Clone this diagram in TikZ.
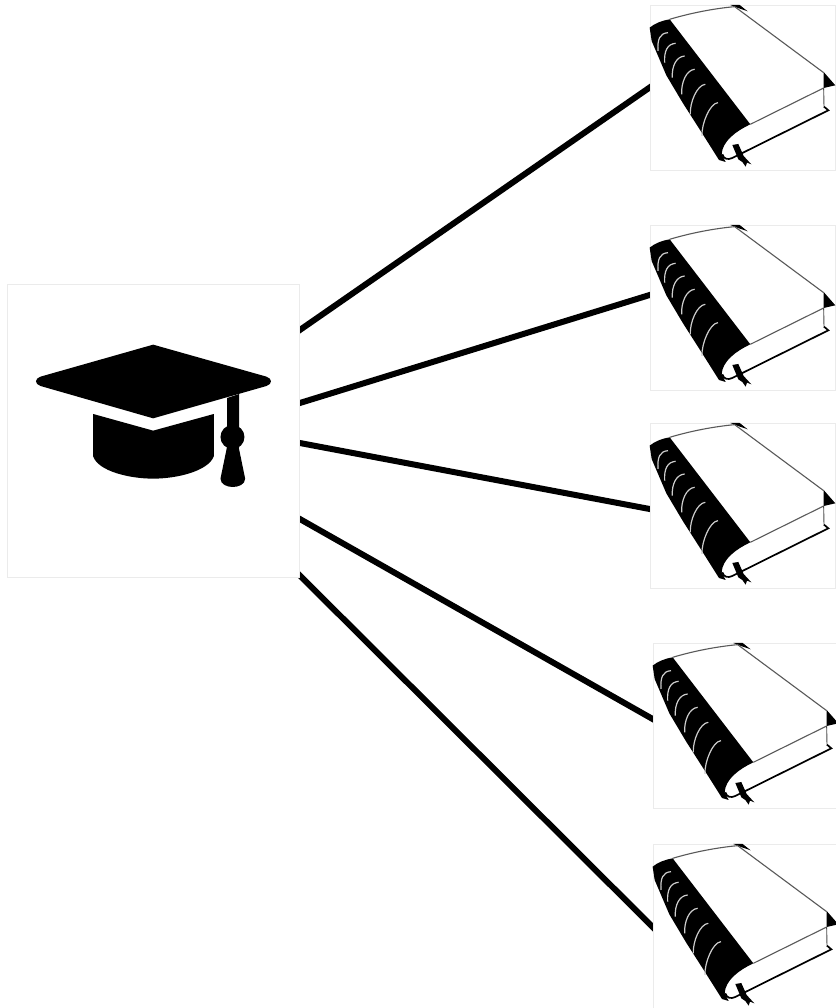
\documentclass[tikz,border=0pt]{standalone}
\usepackage{tikz}
\usetikzlibrary{backgrounds,calc,positioning}
\definecolor{tilegray}{RGB}{235,235,235}
\definecolor{ribgray}{RGB}{205,205,205}
\tikzset{
  tile/.style={draw=tilegray,line width=0.7pt,fill=white,inner sep=0pt,minimum height=#1},
  tile/.default=165pt,
  link/.style={line width=6pt,shorten >=-5pt,shorten <=-5pt},
  mortarboard/.pic={
    \begin{scope}[scale=1/3,shift={(-22,-27)}]
      \fill (460,210) -- (800,306) .. controls (818,312) and (818,328) .. (800,334)
        -- (460,431) -- (122,334) .. controls (104,328) and (104,312) .. (122,306) -- cycle;
      \fill (280,418) -- (460,468) -- (642,418) -- (642,545)
        .. controls (625,590) and (530,612) .. (460,612)
        .. controls (390,612) and (295,590) .. (280,545) -- cycle;
      \fill (682,370) -- (718,358) -- (718,520) -- (682,520) -- cycle;
      \fill (698,487) circle[radius=36];
      \fill (684,505) -- (714,505) -- (736,612)
        .. controls (736,630) and (715,637) .. (699,637)
        .. controls (683,637) and (662,630) .. (662,612) -- cycle;
    \end{scope}
  },
  bookicon/.pic={
    \begin{scope}[scale=1/3,shift={(-30,-16)}]
      % spine and corners
      \fill (30,85) .. controls (45,72) and (70,63) .. (90,60) -- (332,375)
        .. controls (290,395) and (248,425) .. (246,465) -- (258,488) -- (238,482)
        -- (185,398) -- (130,312) -- (80,228) -- (36,125) -- cycle;
      \fill (272,17) -- (300,17) -- (324,36) -- (295,26) -- cycle;
      \fill (552,218) -- (587,258) -- (552,266) -- cycle;
      % cover and pages
      \draw[black!65,line width=1.1pt] (90,60) .. controls (150,42) and (220,28) .. (285,22) -- (552,220);
      \draw[black!65,line width=1.1pt] (552,266) -- (332,375);
      \draw[black!70,line width=0.9pt] (552,266) -- (553,322);
      \draw[line width=1.7pt] (248,465) .. controls (252,480) and (265,482) .. (278,476)
        -- (566,333) -- (553,322);
      % ribs
      \foreach \ax/\ay/\bx/\by in {55/155/85/100,75/190/108/132,98/235/135/170,126/285/165/210,152/345/197/255,187/410/235/310}
        \draw[ribgray,line width=1.2pt] (\ax,\ay) .. controls (\ax-2,\ay-35) and (\bx-25,\by+2) .. (\bx,\by);
      % ribbon
      \fill (278,437) -- (296,434) -- (312,470) -- (335,495) -- (322,490) -- (318,502)
        -- (308,488) -- (296,480) -- cycle;
    \end{scope}
  }
}
\begin{document}
\begin{tikzpicture}[x=1pt,y=-1pt]
  \useasboundingbox (0,0) rectangle (835,1008);
  \node[tile=293pt,minimum width=292pt] (cap) at (153.5,430.5) {};
  \node[tile,minimum width=185pt] (book1) at (742.5,87.5) {};
  \node[tile,minimum width=185pt] (book2) at (742.5,307.5) {};
  \node[tile,minimum width=185pt] (book3) at (742.5,505.5) {};
  \node[tile,minimum width=185pt] (book4) at (745.5,725.5) {};
  \node[tile,minimum width=185pt] (book5) at (745.5,926.5) {};
  \pic at (cap.north west) {mortarboard};
  \foreach \n in {1,...,5}
    \pic at (book\n.north west) {bookicon};
  \begin{pgfonlayer}{background}
    \draw[link] ([yshift=100.5pt]cap.east) -- (book1.west);
    \draw[link] ([yshift=27.5pt]cap.east) -- ([yshift=12.5pt]book2.west);
    \draw[link] ([yshift=-12.5pt]cap.east) -- ([yshift=-3.5pt]book3.west);
    \draw[link] ([yshift=-88.5pt]cap.east) -- ([yshift=6.5pt]book4.west);
    \draw[link] ([yshift=-145pt]cap.east) -- ([yshift=-0.5pt]book5.west);
  \end{pgfonlayer}
\end{tikzpicture}
\end{document}
